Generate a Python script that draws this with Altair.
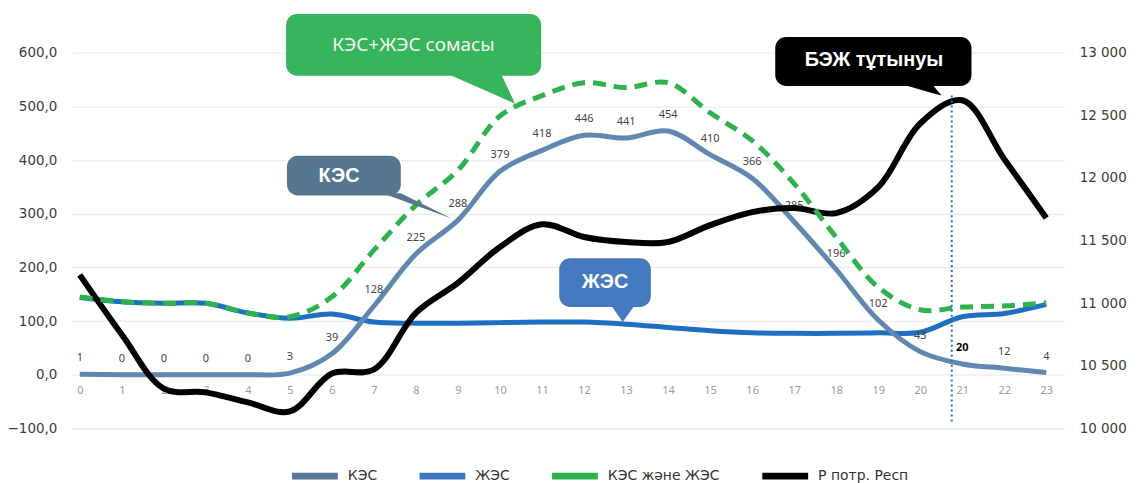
import altair as alt
import pandas as pd

# ---- data ----
hours = list(range(24))
kes = [1, 0, 0, 0, 0, 3, 39, 128, 225, 288, 379, 418, 446, 441, 454, 410, 366, 285, 196, 102, 43, 20, 12, 4]
jes = [144, 136, 133, 133, 115, 105, 113, 98, 96, 96, 97, 98, 98, 94, 88, 82, 78, 77, 77, 78, 79, 108, 114, 131]
kes_jes = [145, 136, 133, 133, 115, 108, 145, 232, 316, 381, 482, 520, 544, 535, 544, 488, 436, 356, 256, 163, 121, 126, 128, 134]
p_resp = [11226, 10750, 10318, 10287, 10207, 10135, 10438, 10470, 10923, 11162, 11448, 11630, 11528, 11488,
          11488, 11623, 11727, 11759, 11719, 11926, 12435, 12620, 12150, 11680]

legend_names = ["КЭС", "ЖЭС", "КЭС және ЖЭС", "Р потр. Респ"]
legend_colors = ["#58789A", "#3C78C3", "#2DB24E", "#000000"]

left_ticks = [-100, 0, 100, 200, 300, 400, 500, 600]
right_ticks = [10000, 10500, 11000, 11500, 12000, 12500, 13000]

df = pd.DataFrame({"h": hours, "kes": kes, "jes": jes, "sum": kes_jes, "p": p_resp})

XS = alt.Scale(domain=[-0.19, 23.427], nice=False, zero=False)
YL = alt.Scale(domain=[-100, 600], nice=False, zero=False)
YR = alt.Scale(domain=[10000, 13000], nice=False, zero=False)

FONT = "DejaVu Sans"

X_AXIS = alt.Axis(values=hours, format="d", title=None, domain=False, ticks=False, grid=False,
                  labelColor="#9a9a9a", labelFontSize=11, labelPadding=10, offset=-54,
                  labelFont="Noto Sans")
YL_AXIS = alt.Axis(values=left_ticks, title=None, domain=False, ticks=False, grid=True,
                   gridColor="#e6e6e6", labelFontSize=13.5, labelColor="#3c3c3c", labelPadding=15,
                   labelFont=FONT,
                   labelExpr="replace(format(datum.value, '.1f'), '.', ',')")
YR_AXIS = alt.Axis(orient="right", values=right_ticks, title=None, domain=False, ticks=False, grid=False,
                   labelFontSize=13.5, labelColor="#3c3c3c", labelPadding=15, labelFont=FONT,
                   labelAlign="left",
                   labelExpr="replace(format(datum.value, ','), ',', ' ')")


def xq(field):
    return alt.X(field, type="quantitative", scale=XS, axis=X_AXIS)


def ya(field):
    # left axis (shown)
    return alt.Y(field, type="quantitative", scale=YL, axis=YL_AXIS)


def yq(field):
    # same left scale, separate group without axis
    return alt.Y(field, type="quantitative", scale=YL, axis=None)


base = alt.Chart(df)

jes_line = base.mark_line(color="#1E6FC2", strokeWidth=5, interpolate="catmull-rom").encode(x=xq("h"), y=ya("jes"))
kes_line = base.mark_line(color="#6087B0", strokeWidth=5, interpolate="catmull-rom").encode(x=xq("h"), y=ya("kes"))
kes_labels = base.mark_text(dy=-16, fontSize=11, font="Noto Sans", color="#444444").encode(
    x=xq("h"), y=ya("kes"), text=alt.Text("kes:Q", format="d"),
).transform_filter("datum.h != 21")
kes_label_bold = base.mark_text(dy=-16, fontSize=11, font="Noto Sans", color="#000000", fontWeight="bold").encode(
    x=xq("h"), y=ya("kes"), text=alt.Text("kes:Q", format="d"),
).transform_filter("datum.h == 21")
group_a = alt.layer(jes_line, kes_line, kes_labels, kes_label_bold)

black_line = base.mark_line(color="#000000", strokeWidth=6, interpolate="catmull-rom").encode(
    x=xq("h"), y=alt.Y("p:Q", scale=YR, axis=YR_AXIS))

green_line = base.mark_line(color="#2DB24E", strokeWidth=5, strokeDash=[13, 8], interpolate="catmull-rom").encode(
    x=xq("h"), y=yq("sum"))

vrule = alt.Chart(pd.DataFrame({"x": [20.75], "y": [520], "y2": [-93]})).mark_rule(
    color="#2E6FB7", strokeWidth=2, strokeDash=[2, 3]).encode(x=xq("x"), y=yq("y"), y2="y2")

# ---- callouts (boxes with pointers) ----
callouts = [
    dict(text="КЭС+ЖЭС сомасы", color="#36B55D", tcolor="#F4F4F4", weight="normal", font="Noto Sans", size=19,
         box=(4.91, 10.98, 557, 672), ptr=(8.77, 10.03, 560, 10.36, 505), tpos=(7.94, 615)),
    dict(text="КЭС", color="#56758F", tcolor="#FFFFFF", weight="bold", font="Liberation Sans", size=20,
         box=(4.93, 7.64, 334, 408), ptr=(7.2, 7.64, 338, 8.85, 291), tpos=(6.17, 371)),
    dict(text="ЖЭС", color="#4479C1", tcolor="#FFFFFF", weight="bold", font="Liberation Sans", size=20,
         box=(11.41, 13.59, 126, 217), ptr=(12.64, 13.21, 130, 12.92, 98), tpos=(12.5, 172)),
    dict(text="БЭЖ тұтынуы", color="#000000", tcolor="#FFFFFF", weight="bold", font="Liberation Sans", size=20,
         box=(16.55, 21.22, 538, 629), ptr=(19.56, 20.28, 541, 20.51, 520), tpos=(18.9, 586)),
]


def tri_rows(xa, xb, yb, xt, yt):
    if xt <= xb:
        return [(xa, yb, yb), (xt, yb, yt), (xb, yb, yb)]
    ym = yb + (yt - yb) * (xb - xa) / (xt - xa)
    return [(xa, yb, yb), (xb, yb, ym), (xt, yt, yt)]


callout_layers = []
for c in callouts:
    x1, x2, y1, y2 = c["box"]
    rect = alt.Chart(pd.DataFrame({"x": [x1], "x2": [x2], "y": [y1], "y2": [y2]})).mark_rect(
        cornerRadius=11, color=c["color"]).encode(x=xq("x"), x2="x2", y=yq("y"), y2="y2")
    rows = tri_rows(*c["ptr"])
    tri = alt.Chart(pd.DataFrame(rows, columns=["x", "ya", "yb"])).mark_area(
        color=c["color"], interpolate="linear", opacity=1).encode(x=xq("x"), y=yq("ya"), y2="yb")
    txt = alt.Chart(pd.DataFrame({"x": [c["tpos"][0]], "y": [c["tpos"][1]], "t": [c["text"]]})).mark_text(
        color=c["tcolor"], fontSize=c["size"], fontWeight=c["weight"], font=c["font"], baseline="middle"
    ).encode(x=xq("x"), y=yq("y"), text="t:N")
    callout_layers += [tri, rect, txt]

# ---- legend (zero-size marks carrying the fill scale) ----
leg_df = pd.DataFrame({"s": legend_names, "z": [0] * 4, "w": [0] * 4})
legend_layer = alt.Chart(leg_df).mark_rect().encode(
    x=xq("z"), x2="z", y=yq("w"), y2="w",
    fill=alt.Fill("s:N", scale=alt.Scale(domain=legend_names, range=legend_colors),
                  legend=alt.Legend(title=None, orient="none", legendX=221, legendY=402, direction="horizontal",
                                    symbolType="M-1,-0.15H1V0.15H-1Z", symbolSize=2116, symbolStrokeWidth=0,
                                    labelFontSize=14, labelColor="#333333", labelFont=FONT, labelOffset=10,
                                    columnPadding=42, padding=0)),
)

group_c = alt.layer(green_line, vrule, *callout_layers, legend_layer)

chart = alt.layer(group_a, black_line, group_c).resolve_scale(y="independent").properties(
    width=996, height=377,
    padding={"left": 64, "top": 44, "right": 66, "bottom": 54},
    autosize=alt.AutoSizeParams(type="none"),
).configure_view(stroke=None)

chart.save("out.html", embed_options={"renderer": "svg", "actions": False})
